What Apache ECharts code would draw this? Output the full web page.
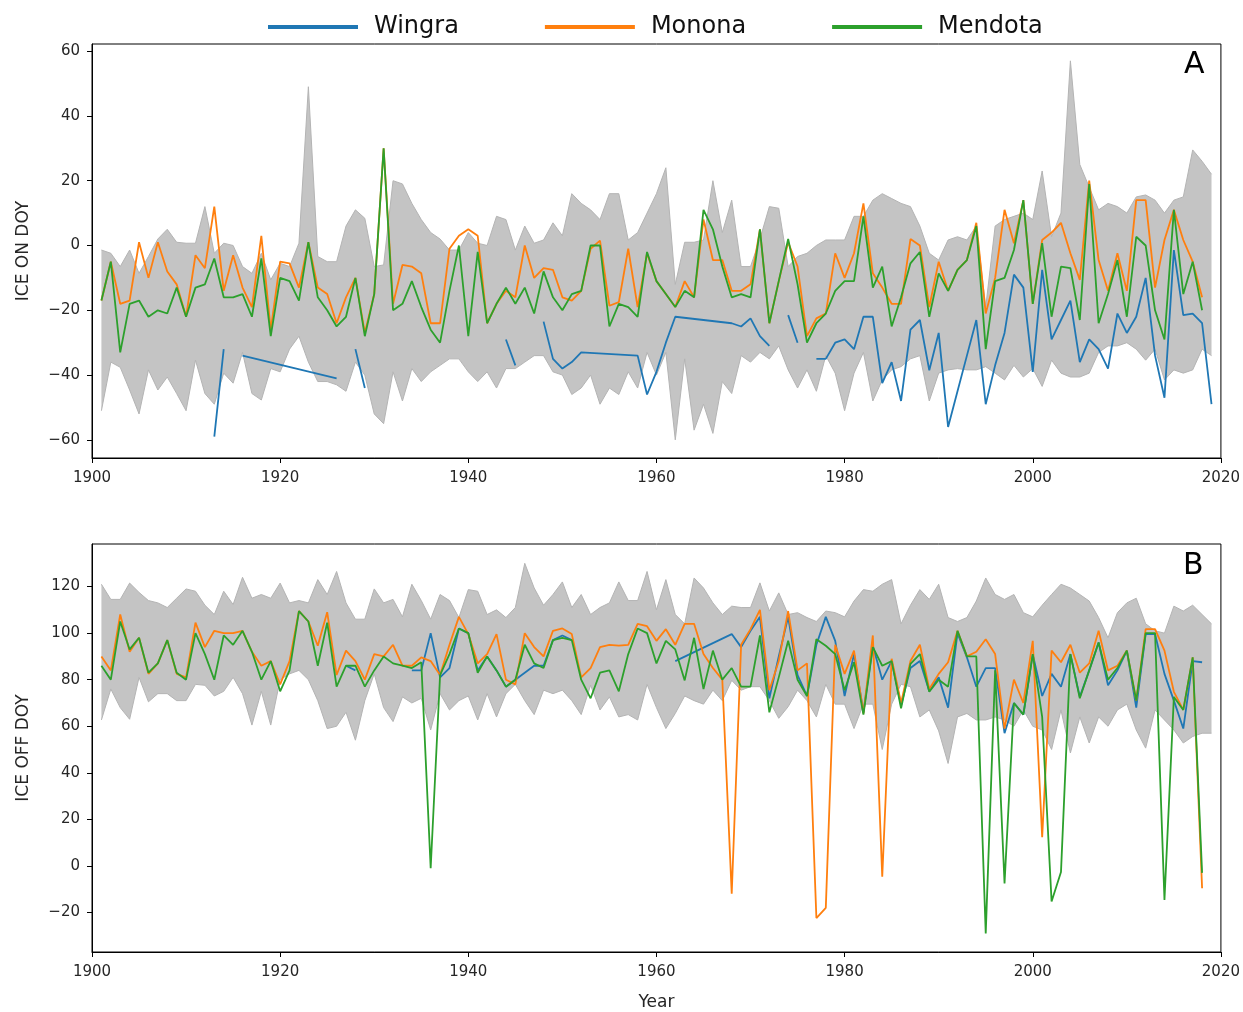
<!DOCTYPE html>
<html><head><meta charset="utf-8">
<script src="https://cdn.jsdelivr.net/npm/echarts@6/dist/echarts.min.js"></script>
<style>html,body{margin:0;padding:0;background:#fff}#chart{width:1243px;height:1012px}</style>
</head><body><div id="chart"></div>
<script>
// ---------- DATA ----------
const axisFirstYear = 1900, axisLastYear = 2020;
const seriesFirstYear = 1901;
const xTickLabels = ['1900','1920','1940','1960','1980','2000','2020'];
const iceOnTicks = [-60,-40,-20,0,20,40,60];
const iceOffTicks = [-20,0,20,40,60,80,100,120];

// Panel A: ICE ON DOY (1901-2018)
const iceOnMendota = [
 -17,-5,-33,-18,-17,-22,-20,-21,-13,-22,
 -13,-12,-4,-16,-16,-15,-22,-4,-28,-10,
 -11,-17,1,-16,-20,-25,-22,-10,-28,-15,
 30,-20,-18,-11,-19,-26,-30,-14,0,-28,
 -2,-24,-18,-13,-18,-13,-21,-8,-16,-20,
 -15,-14,0,0,-25,-18,-19,-22,-2,-11,
 -15,-19,-14,-16,11,5,-6.5,-16,-15,-16,
 5,-24,-11,2,-12,-30,-24,-21,-14,-11,
 -11,9,-13,-6.5,-25,-16,-5.5,-2,-22,-8.6,
 -14,-7.5,-4.5,6,-32,-11,-10,-1.4,14,-18,
 0.7,-22,-6.5,-7,-23,19,-24,-15,-4.5,-22,
 2.7,0,-20,-29,11,-15,-5,-20];
const iceOnMonona = [
 -17,-5,-18,-17,1,-10,1,-8,-12,-22,
 -3,-7,12,-14,-3,-13,-19,3,-26,-5,
 -5.5,-13,1,-13,-15,-24,-16,-10,-27,-15,
 30,-18,-6,-6.5,-8.6,-24,-24,-1,3,5,
 3,-24,-18,-14,-16,0,-10,-7,-7.5,-16,
 -17,-14,-1,1.5,-18.6,-17.5,-1,-19,-2.4,-11,
 -15,-19,-11,-16,8,-4.5,-4.5,-14,-14,-12,
 5,-24,-11,1,-6.5,-28,-22.5,-21,-2.4,-10,
 -2.4,13,-8.6,-13,-18,-18,2,0,-19,-5,
 -14,-7.5,-4.5,7,-21,-10,11,0.7,14,-18,
 1.7,4,7,-2.4,-10.6,20,-4.5,-14,-2.4,-14,
 14,14,-13,1.7,11,1.7,-5,-16];
const iceOnWingraYears = [1913,1914,1915,1916,1926,1927,1928,1929,1930,1944,1945,1946,1948,1949,1950,1951,1952,1958,1959,1960,1961,1962,1968,1969,1970,1971,1972,1973,1974,1975,1976,1977,1978,1979,1980,1981,1982,1983,1984,1985,1986,1987,1988,1989,1990,1991,1992,1993,1994,1995,1996,1997,1998,1999,2000,2001,2002,2003,2004,2005,2006,2007,2008,2009,2010,2011,2012,2013,2014,2015,2016,2017,2018,2019];
const iceOnWingra = [-59,-32,null,-34,-41,null,-32,-44,null,-29,-37,null,-23.5,-35,-38,-36,-33,-34,-46,-39,-30,-22,-24,-25,-22.5,-28,-31,null,-21.5,-30,null,-35,-35,-30,-29,-32,-22,-22,-42.5,-36,-48,-26,-23,-38.5,-27,-56,-45,-34,-23,-49,-37,-27,-9,-13,-39,-7.5,-29,-23,-17,-36,-29,-32,-38,-21,-27,-22,-10,-34,-47,-1.4,-21.5,-21,-24,-49];
// band 1901-2019
const iceOnBandHigh = [
 -1.4,-2.4,-6.5,-1.4,-8.6,-3.4,2,5,1,0.7,
 0.7,12,-2.4,0.7,0,-6.5,-8.6,-2.4,-10.6,-5.5,
 -6.5,0.7,49,-3.4,-5,-5,6,11,8.4,-6.5,
 -6,20,19,13,8,4,2,-1.4,-1.4,4,
 0.7,0,9,8,-1.4,6,0.7,1.7,7,3,
 16,13,11,8,16,16,1.7,4,10,16,
 24,-12,1,1,1.7,20,4,14,-6.5,-6.5,
 2,12,11.5,-6.5,-3.4,-2.4,0,1.7,1.7,1.7,
 9,9,14,16,14.5,13,12,6,-2.4,-4.5,
 1.7,2.7,1.7,6,-19,6,8,9,10,8,
 23,2.7,10,57,25,18,11,13,12,10,
 15,15.6,14,10,14,15,29.5,26,22];
const iceOnBandLow = [
 -51,-36,-37.6,-44.6,-52,-38.4,-44.6,-40.6,-45.7,-51,
 -35.4,-45.7,-49,-39.4,-42.5,-33,-45.7,-47.7,-38,-39,
 -32,-28,-36,-42,-42,-43,-45,-36,-40,-52,
 -55,-39,-48,-38,-42,-39,-37,-35,-35,-39,
 -42,-39,-44,-38,-38,-36,-34,-34,-39,-40,
 -46,-44,-40,-49,-44,-46,-39,-44,-33,-40,
 -33,-60,-35,-57,-49,-58,-42,-45.7,-34,-36,
 -33,-35,-31,-38.4,-44,-38.4,-45,-34,-39.4,-51,
 -39.4,-33,-48,-41.5,-38.4,-37.4,-35,-34,-48,-39.4,
 -38.4,-38,-38.4,-38.4,-37.4,-39.4,-41.5,-37,-40.6,-38,
 -43.5,-35.4,-39.4,-40.6,-40.6,-39.4,-33,-31,-31,-30,
 -32,-35.4,-32,-41.5,-38.4,-39.4,-38.4,-32,-34];

// Panel B: ICE OFF DOY (1901-2018)
const iceOffMendota = [
 86,80,105,93,98,83,87,97,83,80,
 100,91,80,99,95,101,92,80,88,75,
 84,109.5,105,86,104.5,77,86,86,77,84,
 90,87,86,85,87.5,-1,82,91,102,100,
 83,90,84,77,80,95,87,85,97,98,
 97,80,72,83,84,75,91,102,100,87,
 96.7,93,79.7,98,76,92.5,80,85,77,77,
 99,66,81,96.7,80,73,97.4,94.6,91,75.5,
 87.5,65,94,86,88,67.7,86.8,91,74.8,80,
 77,101,90,90,-29,84,-7.5,70,65,91,
 64,-15.3,-2.6,91,72,84,96,80,85,92.5,
 71,100,100,-14.6,72.6,67,89.6,-3];
const iceOffMonona = [
 90,84,108,92,98,82.5,87,97,82.5,81,
 104.5,94,101,100,100,101,92,86,88,78,
 88,109.5,105,94.6,109,82,92.5,88,80,91,
 90,95,86,86,89.6,88,82,95,107,99.6,
 87,91,99.6,80,78,100,94,90,101,102,
 99.6,81,85,94,95,94.6,95,104,103,96.7,
 101.7,95,104,104,91,85,80,-12,95,101.7,
 110,75.5,88,109.5,84,87,-22.4,-18,95,82.5,
 92.5,65.5,99,-4.7,89,70,88,95,76,82.5,
 87.5,101,90,92,97.4,91,59,80,70,96.7,
 12.3,92.5,87.5,95,83,87,101,84,86,92.5,
 71,101.7,101.7,92.5,74.8,67,89.6,-9.6];
const iceOffWingraYears = [1927,1928,1929,1934,1935,1936,1937,1938,1939,1940,1941,1942,1943,1944,1947,1948,1949,1950,1951,1952,1962,1968,1969,1970,1971,1972,1973,1974,1975,1976,1977,1978,1979,1980,1981,1982,1983,1984,1985,1986,1987,1988,1989,1990,1991,1992,1993,1994,1995,1996,1997,1998,1999,2000,2001,2002,2003,2004,2005,2006,2007,2008,2009,2010,2011,2012,2013,2014,2015,2016,2017,2018];
const iceOffWingra = [86,84,null,84,84,100,81,85,102,100,84,90,84,77,86,86,97,99,97,null,88,99.6,94,101,107,72,90,107,82,73,95,107,96.7,73,91,66,94.6,80,88,69,85,88,75,81,68,100,89.6,77,85,85,57,70,65,91,73,82.5,77,91,72.6,84,96,77.6,84,92.5,68,99.6,99.6,82.5,71,59,88,87.5];
const iceOffBandHigh = [
 121,114.5,114.5,121.5,117.5,114,113,111,115,119,
 118,112,108,118,112.3,124,115,116.6,115,121.5,
 113,114,113,123,116.6,126.5,113,106,106,119,
 113,114.5,107,121,114,106,116.6,114,106.7,118.7,
 118,108,110,106.7,111,130,119.4,112,116.6,122,
 111,116.6,108,111,113,122,114,114,126.5,110,
 123,108,104,123.7,119.4,113,108,111.6,111,111,
 121.6,109.5,117.3,108,108.8,106.7,105,109.5,108.8,107,
 113.8,118.7,118,121,123,104,112,118.7,114.5,121,
 106.7,105,106.7,113.8,123.7,116.6,114.5,116.6,108.8,107,
 112,116.6,121,119.4,116.6,113.8,106.7,98,108.8,113,
 115,104,101,100,111.6,109.5,112,108,104];
const iceOffBandLow = [
 62.7,76,68,63,81,70.5,74,74,71,71,
 78,77.6,73,75,81,74,60.5,75,60.5,80,
 82.5,84,80,71,59,60,66,54,71,82.5,
 68,62,72.6,70,72,58.4,74,67,71,73,
 62.7,74,64,74,78,71,65,75.5,74,75.5,
 71,65,77.6,67,72.6,64,65,62.7,78,68,
 59,65.5,73,71,69.5,75.5,71,79.7,75.5,77,
 77,71,63.4,68.4,75.5,71,64,78,69.5,69.5,
 59,69.5,69.5,50,69.5,78,77,64,67,58,
 44,64,65.5,62.7,62.7,64,62.7,60,67,60,
 58.4,50,67,48.5,64,52.8,64,60,67,69.5,
 58.4,50.6,67,62.7,58.4,52.8,55.6,57,57];

// ---------- BUILD ----------
const years = [];
for (let y = axisFirstYear; y <= axisLastYear; y++) years.push(String(y));
const byYear = (start, vals) => vals.map((v, i) => [String(start + i), v]);
const byYearList = (ys, vals) => ys.map((y, i) => [String(y), vals[i] === null ? '-' : vals[i]]);
const span = (hi, lo) => hi.map((v, i) => +(v - lo[i]).toFixed(2));

const C_WIN = '#1f77b4', C_MON = '#ff7f0e', C_MEN = '#2ca02c';
const FONT = 'DejaVu Sans';
const TXT = '#262626';
const minus = v => String(v).replace('-', '\u2212');

function xAxis(gi, name) {
  return {
    type: 'category', gridIndex: gi, data: years, boundaryGap: false,
    axisLine: { onZero: false, lineStyle: { color: '#000', width: 1 } },
    axisTick: { interval: (i, v) => xTickLabels.indexOf(v) >= 0, length: 5, lineStyle: { color: '#000' } },
    axisLabel: { interval: (i, v) => xTickLabels.indexOf(v) >= 0, fontSize: 15, color: TXT, fontFamily: FONT, margin: 13 },
    splitLine: { show: false },
    name: name || '', nameLocation: 'middle', nameGap: 42,
    nameTextStyle: { fontSize: 17, color: TXT, fontFamily: FONT }
  };
}
function yAxis(gi, min, max, ticks, name) {
  return {
    type: 'value', gridIndex: gi, min: min, max: max,
    axisLine: { show: true, onZero: false, lineStyle: { color: '#000', width: 1 } },
    axisTick: { show: true, customValues: ticks, length: 5, lineStyle: { color: '#000' } },
    axisLabel: { customValues: ticks, fontSize: 15, color: TXT, fontFamily: FONT, margin: 12, formatter: minus },
    splitLine: { show: false },
    name: name, nameLocation: 'middle', nameGap: 60,
    nameTextStyle: { fontSize: 17, color: TXT, fontFamily: FONT }
  };
}
function band(gi, lo, hi, key) {
  const edge = { color: '#b4b4b4', width: 1 };
  return [
    { name: key + 'low', type: 'line', xAxisIndex: gi, yAxisIndex: gi, stack: key, stackStrategy: 'all',
      data: byYear(seriesFirstYear, lo), symbol: 'none', lineStyle: edge, silent: true, z: 1 },
    { name: key + 'high', type: 'line', xAxisIndex: gi, yAxisIndex: gi, stack: key, stackStrategy: 'all',
      data: byYear(seriesFirstYear, span(hi, lo)), symbol: 'none', lineStyle: edge,
      areaStyle: { color: '#c4c4c4', opacity: 1 }, silent: true, z: 1 }
  ];
}
function line(gi, name, color, data) {
  return { name: name, type: 'line', xAxisIndex: gi, yAxisIndex: gi, data: data, symbol: 'none', showSymbol: false,
    connectNulls: false, lineStyle: { color: color, width: 1.8 }, itemStyle: { color: color }, z: 3 };
}

const option = {
  animation: false,
  backgroundColor: '#fff',
  legend: {
    data: ['Wingra', 'Monona', 'Mendota'], left: 268, top: 15, padding: 0, icon: 'rect', itemWidth: 90, itemHeight: 4, itemGap: 86,
    textStyle: { fontSize: 24, color: '#111', fontFamily: FONT, padding: [0, 0, 0, 11] }
  },
  grid: [
    { left: 92, right: 22, top: 44, height: 414, show: true, borderColor: '#000', borderWidth: 1, backgroundColor: 'transparent' },
    { left: 92, right: 22, top: 544, height: 412, show: true, borderColor: '#000', borderWidth: 1, backgroundColor: 'transparent' }
  ],
  xAxis: [xAxis(0), xAxis(1, 'Year')],
  yAxis: [yAxis(0, -65.6, 62.2, iceOnTicks, 'ICE ON DOY'), yAxis(1, -37, 138.3, iceOffTicks, 'ICE OFF DOY')],
  series: [
    ...band(0, iceOnBandLow, iceOnBandHigh, 'bandA'),
    line(0, 'Wingra', C_WIN, byYearList(iceOnWingraYears, iceOnWingra)),
    line(0, 'Monona', C_MON, byYear(seriesFirstYear, iceOnMonona)),
    line(0, 'Mendota', C_MEN, byYear(seriesFirstYear, iceOnMendota)),
    ...band(1, iceOffBandLow, iceOffBandHigh, 'bandB'),
    line(1, 'Wingra', C_WIN, byYearList(iceOffWingraYears, iceOffWingra)),
    line(1, 'Monona', C_MON, byYear(seriesFirstYear, iceOffMonona)),
    line(1, 'Mendota', C_MEN, byYear(seriesFirstYear, iceOffMendota))
  ],
  graphic: [
    { type: 'text', left: 1184, top: 50, z: 100, style: { text: 'A', fontSize: 30, fill: '#000', fontFamily: FONT } },
    { type: 'text', left: 1183, top: 551, z: 100, style: { text: 'B', fontSize: 30, fill: '#000', fontFamily: FONT } }
  ]
};
const chart = echarts.init(document.getElementById('chart'), null, { renderer: 'canvas' });
chart.setOption(option);
</script>
</body></html>
